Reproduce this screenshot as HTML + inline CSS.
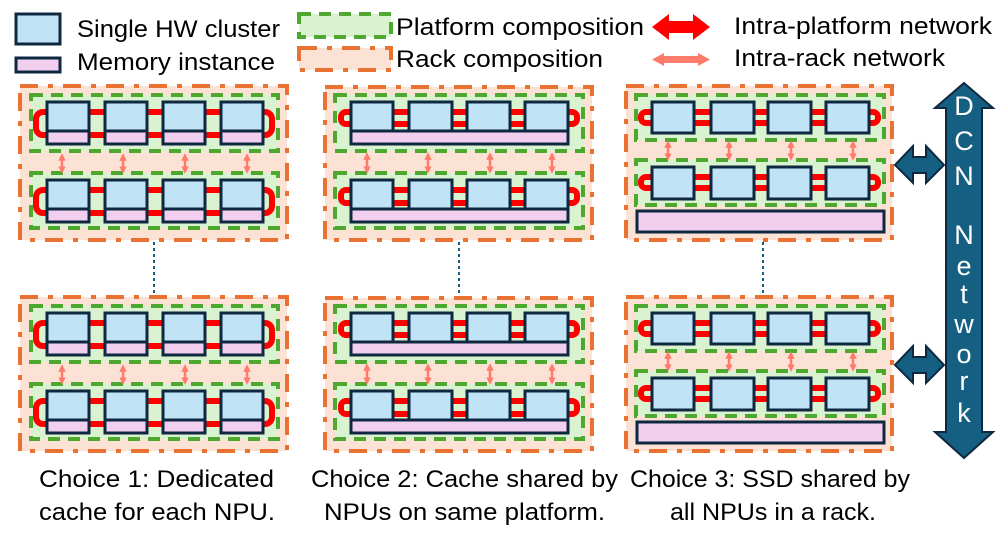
<!DOCTYPE html>
<html><head><meta charset="utf-8"><style>
html,body{margin:0;padding:0;background:#fff;}
svg{display:block;}
text{font-family:"Liberation Sans Narrow","Liberation Sans",sans-serif;fill:#000;}
</style></head><body>
<svg width="997" height="543" viewBox="0 0 997 543" xmlns="http://www.w3.org/2000/svg">
<defs>
<marker id="ah" viewBox="0 0 10 10" refX="5" refY="5" markerWidth="3" markerHeight="3" orient="auto-start-reverse">
<path d="M0,0 L10,5 L0,10 z" fill="#ff7b6b"/></marker>
<g id="c1">
 <rect x="20" y="86" width="267" height="154" fill="#fbe2d5" stroke="#e97132" stroke-width="4" stroke-dasharray="18 10 5 10"/>
 <rect x="31" y="95" width="247" height="56" fill="#d9f2d0" stroke="#4ea72e" stroke-width="4" stroke-dasharray="12 8"/>
 <rect x="31" y="173" width="247" height="55" fill="#d9f2d0" stroke="#4ea72e" stroke-width="4" stroke-dasharray="12 8"/>
 <rect x="36" y="112" width="236" height="23" rx="7" fill="none" stroke="#ff0000" stroke-width="6"/>
 <rect x="36" y="190" width="236" height="23" rx="7" fill="none" stroke="#ff0000" stroke-width="6"/>
 <g stroke="#0e2841" stroke-width="3">
  <rect x="47" y="102" width="42" height="29" fill="#c0e4f5"/><rect x="47" y="131" width="42" height="13" fill="#f2cfee"/>
  <rect x="105" y="102" width="42" height="29" fill="#c0e4f5"/><rect x="105" y="131" width="42" height="13" fill="#f2cfee"/>
  <rect x="163" y="102" width="42" height="29" fill="#c0e4f5"/><rect x="163" y="131" width="42" height="13" fill="#f2cfee"/>
  <rect x="221" y="102" width="42" height="29" fill="#c0e4f5"/><rect x="221" y="131" width="42" height="13" fill="#f2cfee"/>
  <rect x="47" y="180" width="42" height="29" fill="#c0e4f5"/><rect x="47" y="209" width="42" height="13" fill="#f2cfee"/>
  <rect x="105" y="180" width="42" height="29" fill="#c0e4f5"/><rect x="105" y="209" width="42" height="13" fill="#f2cfee"/>
  <rect x="163" y="180" width="42" height="29" fill="#c0e4f5"/><rect x="163" y="209" width="42" height="13" fill="#f2cfee"/>
  <rect x="221" y="180" width="42" height="29" fill="#c0e4f5"/><rect x="221" y="209" width="42" height="13" fill="#f2cfee"/>
 </g>
 <g stroke="#ff7b6b" stroke-width="2.5" marker-start="url(#ah)" marker-end="url(#ah)">
  <line x1="62" y1="157" x2="62" y2="170"/><line x1="123" y1="157" x2="123" y2="170"/>
  <line x1="185" y1="157" x2="185" y2="170"/><line x1="247" y1="157" x2="247" y2="170"/>
 </g>
</g>
<g id="c2">
 <rect x="325" y="87" width="267" height="153" fill="#fbe2d5" stroke="#e97132" stroke-width="4" stroke-dasharray="18 10 5 10"/>
 <rect x="335" y="95" width="248" height="56" fill="#d9f2d0" stroke="#4ea72e" stroke-width="4" stroke-dasharray="12 8"/>
 <rect x="335" y="173" width="248" height="55" fill="#d9f2d0" stroke="#4ea72e" stroke-width="4" stroke-dasharray="12 8"/>
 <rect x="341" y="112" width="236" height="12" rx="5" fill="none" stroke="#ff0000" stroke-width="6"/>
 <rect x="341" y="190" width="236" height="13" rx="5" fill="none" stroke="#ff0000" stroke-width="6"/>
 <g stroke="#0e2841" stroke-width="3">
  <rect x="351" y="102" width="42" height="29" fill="#c0e4f5"/><rect x="409" y="102" width="43" height="29" fill="#c0e4f5"/>
  <rect x="467" y="102" width="43" height="29" fill="#c0e4f5"/><rect x="525" y="102" width="43" height="29" fill="#c0e4f5"/>
  <rect x="351" y="131" width="217" height="13" fill="#f2cfee"/>
  <rect x="351" y="180" width="42" height="29" fill="#c0e4f5"/><rect x="409" y="180" width="43" height="29" fill="#c0e4f5"/>
  <rect x="467" y="180" width="43" height="29" fill="#c0e4f5"/><rect x="525" y="180" width="43" height="29" fill="#c0e4f5"/>
  <rect x="351" y="209" width="217" height="13" fill="#f2cfee"/>
 </g>
 <g stroke="#ff7b6b" stroke-width="2.5" marker-start="url(#ah)" marker-end="url(#ah)">
  <line x1="367" y1="156" x2="367" y2="170"/><line x1="428" y1="156" x2="428" y2="170"/>
  <line x1="490" y1="156" x2="490" y2="170"/><line x1="552" y1="156" x2="552" y2="170"/>
 </g>
</g>
<g id="c3">
 <rect x="626" y="86" width="266" height="154" fill="#fbe2d5" stroke="#e97132" stroke-width="4" stroke-dasharray="18 10 5 10"/>
 <rect x="636" y="95" width="248" height="45" fill="#d9f2d0" stroke="#4ea72e" stroke-width="4" stroke-dasharray="12 8"/>
 <rect x="636" y="160" width="248" height="45" fill="#d9f2d0" stroke="#4ea72e" stroke-width="4" stroke-dasharray="12 8"/>
 <rect x="641" y="112" width="237" height="11" rx="5" fill="none" stroke="#ff0000" stroke-width="6"/>
 <rect x="641" y="177" width="237" height="11" rx="5" fill="none" stroke="#ff0000" stroke-width="6"/>
 <g stroke="#0e2841" stroke-width="3" fill="#c0e4f5">
  <rect x="652" y="102" width="42" height="31"/><rect x="711" y="102" width="43" height="31"/>
  <rect x="768" y="102" width="43" height="31"/><rect x="826" y="102" width="43" height="31"/>
  <rect x="652" y="167" width="42" height="32"/><rect x="711" y="167" width="43" height="32"/>
  <rect x="768" y="167" width="43" height="32"/><rect x="826" y="167" width="43" height="32"/>
  <rect x="637" y="211" width="247" height="21" fill="#f2cfee"/>
 </g>
 <g stroke="#ff7b6b" stroke-width="2.5" marker-start="url(#ah)" marker-end="url(#ah)">
  <line x1="668" y1="144" x2="668" y2="157"/><line x1="729" y1="144" x2="729" y2="157"/>
  <line x1="791" y1="144" x2="791" y2="157"/><line x1="853" y1="144" x2="853" y2="157"/>
 </g>
</g>
</defs>

<use href="#c1"/><use href="#c1" y="211"/>
<use href="#c2"/><use href="#c2" y="211"/>
<use href="#c3"/><use href="#c3" y="211"/>

<g stroke="#156082" stroke-width="2" stroke-dasharray="3 3">
 <line x1="154" y1="242" x2="154" y2="296"/>
 <line x1="459" y1="242" x2="459" y2="296"/>
 <line x1="763" y1="242" x2="763" y2="296"/>
</g>

<!-- DCN arrow -->
<path d="M964,83 L993,108 L982,108 L982,432 L993,432 L964,458 L935,432 L946,432 L946,108 L935,108 Z" fill="#156082" stroke="#0e2841" stroke-width="2"/>
<g fill="#fff" font-family="Liberation Sans, sans-serif" font-size="27" text-anchor="middle">
 <text x="964" y="115" style="fill:#fff">D</text>
 <text x="964" y="150" style="fill:#fff">C</text>
 <text x="964" y="185" style="fill:#fff">N</text>
 <text x="964" y="244" style="fill:#fff">N</text>
 <text x="964" y="275" style="fill:#fff">e</text>
 <text x="964" y="303" style="fill:#fff">t</text>
 <text x="964" y="333" style="fill:#fff">w</text>
 <text x="964" y="363" style="fill:#fff">o</text>
 <text x="964" y="390" style="fill:#fff">r</text>
 <text x="964" y="422" style="fill:#fff">k</text>
</g>
<g fill="#156082" stroke="#0e2841" stroke-width="2">
 <path d="M895,165 L913,146 L913,157 L926,157 L926,146 L944,165 L926,183 L926,173 L913,173 L913,183 Z"/>
 <path d="M895,365 L913,346 L913,357 L926,357 L926,346 L944,365 L926,383 L926,373 L913,373 L913,383 Z"/>
</g>

<!-- legend -->
<rect x="16" y="14" width="44" height="30" fill="#c0e4f5" stroke="#0e2841" stroke-width="3"/>
<rect x="16" y="58" width="44" height="14" fill="#f2cfee" stroke="#0e2841" stroke-width="3"/>
<rect x="299" y="14" width="92" height="23" fill="#d9f2d0" stroke="#4ea72e" stroke-width="4" stroke-dasharray="12 8"/>
<rect x="299" y="48" width="92" height="22" fill="#fbe2d5" stroke="#e97132" stroke-width="4" stroke-dasharray="18 10 5 10"/>
<path d="M652,27 L669,14 L669,21 L693,21 L693,14 L710,27 L693,40 L693,33 L669,33 L669,40 Z" fill="#ff0000"/>
<path d="M652,59.5 L664,53 L664,56 L698,56 L698,53 L710,59.5 L698,66 L698,63 L664,63 L664,66 Z" fill="#ff7b6b"/>
<g font-size="24">
 <text x="77" y="37" textLength="203" lengthAdjust="spacingAndGlyphs">Single HW cluster</text>
 <text x="77" y="70" textLength="198" lengthAdjust="spacingAndGlyphs">Memory instance</text>
 <text x="396" y="35" textLength="248" lengthAdjust="spacingAndGlyphs">Platform composition</text>
 <text x="396" y="67" textLength="207" lengthAdjust="spacingAndGlyphs">Rack composition</text>
 <text x="734" y="34" textLength="258" lengthAdjust="spacingAndGlyphs">Intra-platform network</text>
 <text x="734" y="66" textLength="211" lengthAdjust="spacingAndGlyphs">Intra-rack network</text>
</g>
<g font-size="24">
 <text x="39" y="487" textLength="235" lengthAdjust="spacingAndGlyphs">Choice 1: Dedicated</text>
 <text x="39" y="520" textLength="236" lengthAdjust="spacingAndGlyphs">cache for each NPU.</text>
 <text x="311" y="487" textLength="307" lengthAdjust="spacingAndGlyphs">Choice 2: Cache shared by</text>
 <text x="324" y="520" textLength="281" lengthAdjust="spacingAndGlyphs">NPUs on same platform.</text>
 <text x="630" y="487" textLength="280" lengthAdjust="spacingAndGlyphs">Choice 3: SSD shared by</text>
 <text x="670" y="520" textLength="206" lengthAdjust="spacingAndGlyphs">all NPUs in a rack.</text>
</g>
</svg>
</body></html>
